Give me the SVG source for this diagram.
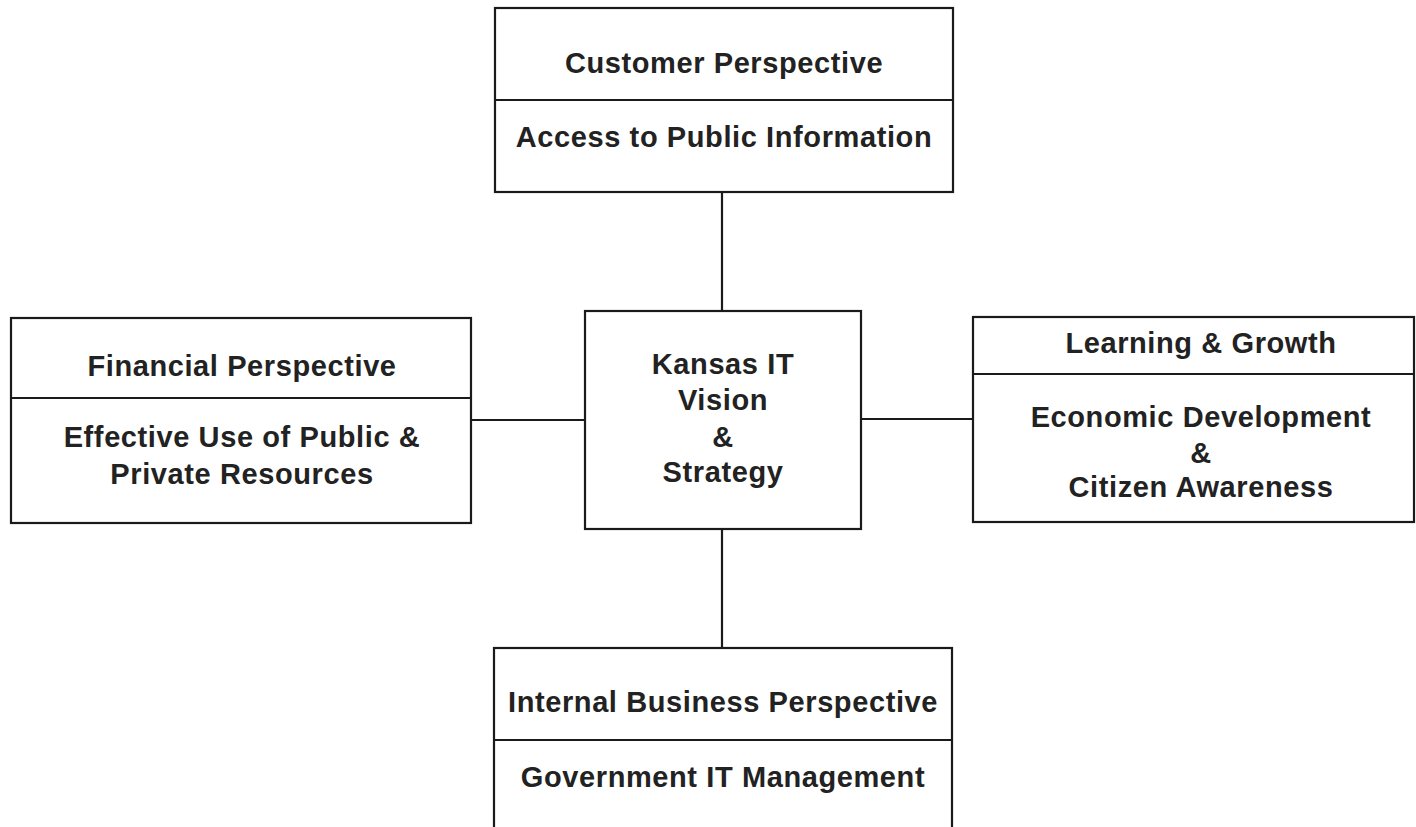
<svg xmlns="http://www.w3.org/2000/svg" width="1416" height="827" viewBox="0 0 1416 827">
  <style>
    .box { fill: #ffffff; stroke: #1a1a1a; stroke-width: 2.2; }
    .div { stroke: #1a1a1a; stroke-width: 2.2; }
    .link { stroke: #1a1a1a; stroke-width: 2.2; fill: none; }
    text { font-family: "Liberation Sans", Arial, sans-serif; font-weight: bold; font-size: 29px; letter-spacing: 0.6px; fill: #222222; text-anchor: middle; }
  </style>
  <rect width="1416" height="827" fill="#ffffff"/>

  <!-- connectors between the centre and the four perspectives -->
  <g id="connectors">
    <line class="link" x1="722" y1="192" x2="722" y2="311"/>
    <line class="link" x1="471" y1="420" x2="585" y2="420"/>
    <line class="link" x1="861" y1="419" x2="973" y2="419"/>
    <line class="link" x1="722" y1="529" x2="722" y2="648"/>
  </g>

  <g id="customer">
    <rect class="box" x="495" y="8" width="458" height="184"/>
    <line class="div" x1="495" y1="100" x2="953" y2="100"/>
    <text x="724" y="73">Customer Perspective</text>
    <text x="724" y="147">Access to Public Information</text>
  </g>

  <g id="financial">
    <rect class="box" x="11" y="318" width="460" height="205"/>
    <line class="div" x1="11" y1="398" x2="471" y2="398"/>
    <text x="242" y="376">Financial Perspective</text>
    <text x="242" y="447">Effective Use of Public &amp;</text>
    <text x="242" y="484">Private Resources</text>
  </g>

  <g id="vision">
    <rect class="box" x="585" y="311" width="276" height="218"/>
    <text x="723" y="374">Kansas IT</text>
    <text x="723" y="410">Vision</text>
    <text x="723" y="447">&amp;</text>
    <text x="723" y="482">Strategy</text>
  </g>

  <g id="learning">
    <rect class="box" x="973" y="317" width="441" height="205"/>
    <line class="div" x1="973" y1="374" x2="1414" y2="374"/>
    <text x="1201" y="353">Learning &amp; Growth</text>
    <text x="1201" y="427">Economic Development</text>
    <text x="1201" y="463">&amp;</text>
    <text x="1201" y="497">Citizen Awareness</text>
  </g>

  <g id="internal">
    <rect class="box" x="494" y="648" width="458" height="200"/>
    <line class="div" x1="494" y1="740" x2="952" y2="740"/>
    <text x="723" y="712">Internal Business Perspective</text>
    <text x="723" y="787">Government IT Management</text>
  </g>
</svg>
